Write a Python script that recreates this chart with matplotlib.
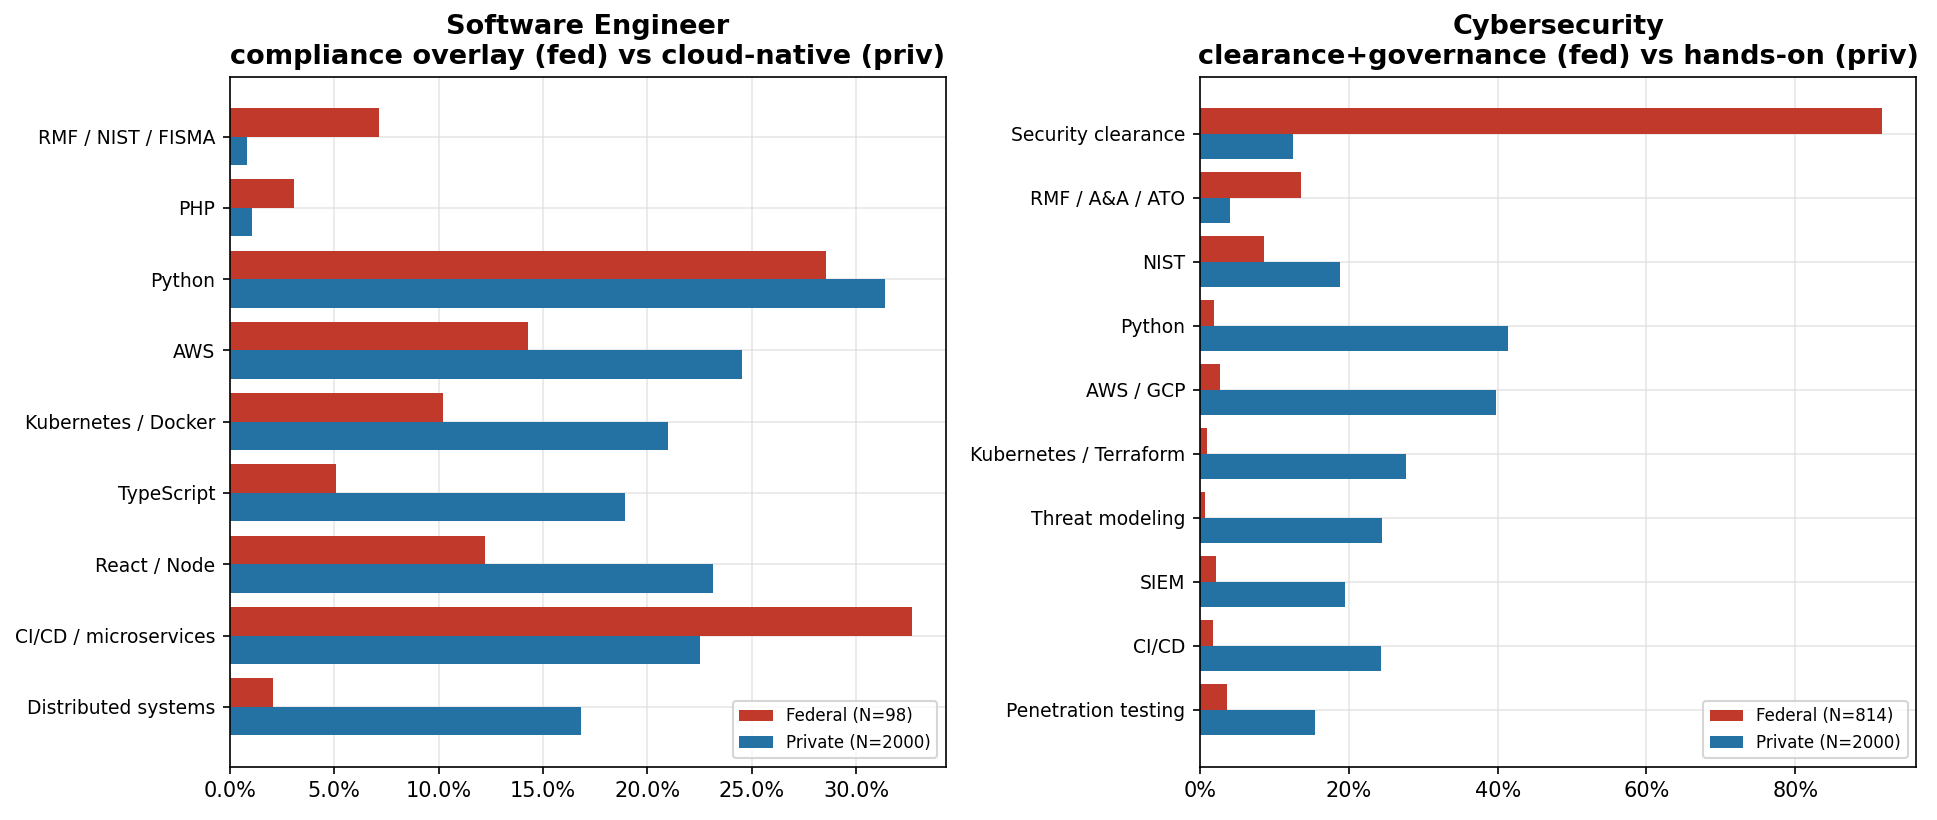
import numpy as np
import matplotlib.pyplot as plt
from matplotlib.ticker import PercentFormatter

# software engineer panel
swe_skills = ['RMF / NIST / FISMA', 'PHP', 'Python', 'AWS', 'Kubernetes / Docker',
              'TypeScript', 'React / Node', 'CI/CD / microservices', 'Distributed systems']
swe_fed = [7.14, 3.06, 28.57, 14.29, 10.20, 5.10, 12.24, 32.65, 2.04]
swe_priv = [0.80, 1.05, 31.40, 24.55, 21.00, 18.90, 23.15, 22.50, 16.80]

# cybersecurity panel
cyber_skills = ['Security clearance', 'RMF / A&A / ATO', 'NIST', 'Python', 'AWS / GCP',
                'Kubernetes / Terraform', 'Threat modeling', 'SIEM', 'CI/CD', 'Penetration testing']
cyber_fed = [91.65, 13.51, 8.60, 1.84, 2.70, 0.98, 0.61, 2.09, 1.72, 3.69]
cyber_priv = [12.45, 4.10, 18.80, 41.35, 39.75, 27.75, 24.40, 19.55, 24.30, 15.50]

FED_COLOR = '#c0392b'
PRIV_COLOR = '#2471a3'


def drawpanel(ax, skills, fed, priv, nfed, title, decimals):
    y = np.arange(len(skills))
    h = 0.4
    ax.barh(y - h / 2, np.array(fed) / 100, height=h, color=FED_COLOR, label='Federal (N=%d)' % nfed)
    ax.barh(y + h / 2, np.array(priv) / 100, height=h, color=PRIV_COLOR, label='Private (N=2000)')
    ax.set_yticks(y)
    ax.set_yticklabels(skills, fontsize=9)
    ax.invert_yaxis()
    ax.xaxis.set_major_formatter(PercentFormatter(1.0, decimals=decimals))
    ax.tick_params(axis='x', labelsize=10)
    ax.set_axisbelow(True)
    ax.grid(True, color='#dddddd', linewidth=0.8, alpha=0.7)
    ax.set_title(title, fontsize=13, fontweight='bold')
    ax.legend(loc='lower right', fontsize=8)


def main():
    fig = plt.figure(figsize=(1937 / 150, 820 / 150), dpi=150)
    ax1 = fig.add_axes([0.1187, 0.065, 0.3695, 0.8415])
    ax2 = fig.add_axes([0.6195, 0.065, 0.3697, 0.8415])
    drawpanel(ax1, swe_skills, swe_fed, swe_priv, 98,
              'Software Engineer\ncompliance overlay (fed) vs cloud-native (priv)', 1)
    drawpanel(ax2, cyber_skills, cyber_fed, cyber_priv, 814,
              'Cybersecurity\nclearance+governance (fed) vs hands-on (priv)', 0)
    fig.savefig('out.png', dpi=150)


if __name__ == '__main__':
    main()
